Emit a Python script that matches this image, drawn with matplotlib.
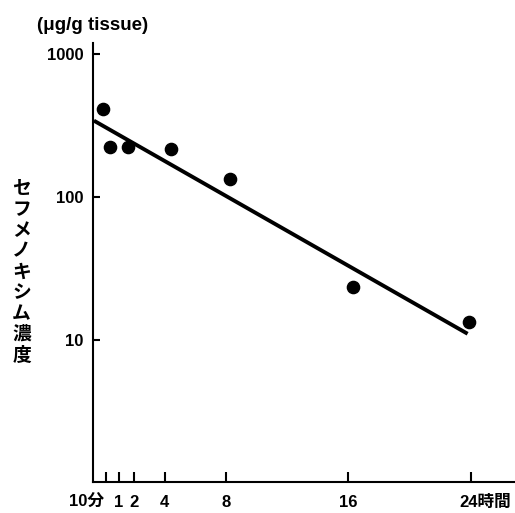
import matplotlib
matplotlib.use("Agg")
import matplotlib.pyplot as plt
from matplotlib.ticker import NullLocator, FixedLocator
from matplotlib.transforms import ScaledTranslation

# ---- data ----
sample_hours = [0.0, 0.45, 1.6, 4.4, 8.3, 16.3, 23.9]
concentration = [409, 222, 222, 217, 133, 23.4, 13.5]       # µg/g tissue
fit_hours = [-0.62, 23.8]
fit_concentration = [341, 11.1]
xtick_hours = [1/6, 1, 2, 4, 8, 16, 24]
xtick_labels = ['10分', '1', '2', '4', '8', '16', '24時間']
ytick_values = [10, 100, 1000]
ytick_labels = ['10', '100', '1000']
ylabel_text = 'セフメノキシム濃度'
unit_text = '(μg/g tissue)'

FONT = ['Liberation Sans', 'Noto Sans CJK JP', 'DejaVu Sans']
plt.rcParams['font.family'] = FONT

fig = plt.figure(figsize=(5.15, 5.13), dpi=100)
ax = fig.add_axes([0.180, 0.061, 0.818, 0.8558])

ax.plot(fit_hours, fit_concentration, color='black', lw=2.8, solid_capstyle='butt')
ax.plot(sample_hours, concentration, 'o', color='black', ms=8.8, mec='black')

ax.set_yscale('log')
ax.set_xlim(-0.70, 26.83)
ax.set_ylim(1.03, 1194)

for s in ['top', 'right']:
    ax.spines[s].set_visible(False)
for s in ['left', 'bottom']:
    ax.spines[s].set_linewidth(1.5)
    ax.spines[s].set_color('black')

ax.yaxis.set_major_locator(FixedLocator(ytick_values))
ax.yaxis.set_minor_locator(NullLocator())
ax.set_yticklabels(ytick_labels)
ax.set_xticks(xtick_hours)
ax.set_xticklabels(xtick_labels)
ax.xaxis.set_minor_locator(NullLocator())

ax.tick_params(axis='y', direction='in', length=5, width=1.5, pad=6.5,
               labelsize=12)
ax.tick_params(axis='x', direction='in', length=7, width=1.5, pad=9.5,
               labelsize=12)
for lab in ax.get_yticklabels() + ax.get_xticklabels():
    lab.set_fontweight('bold')

xl = ax.get_xticklabels()
xl[0].set_horizontalalignment('right')
xl[0].set_transform(xl[0].get_transform() + ScaledTranslation(-2/100, 0, fig.dpi_scale_trans))
xl[-1].set_horizontalalignment('left')
xl[-1].set_transform(xl[-1].get_transform() + ScaledTranslation(-11/100, 0, fig.dpi_scale_trans))

fig.text(21.5/515, 1 - 272/513, '\n'.join(ylabel_text), ha='center', va='center',
         fontsize=13.5, fontweight='bold', linespacing=1.12,
         family=['Noto Sans CJK JP', 'DejaVu Sans'])
fig.text(37/515, 1 - 25/513, unit_text, ha='left', va='center',
         fontsize=13.5, fontweight='bold')

fig.savefig('out.png', dpi=100)
